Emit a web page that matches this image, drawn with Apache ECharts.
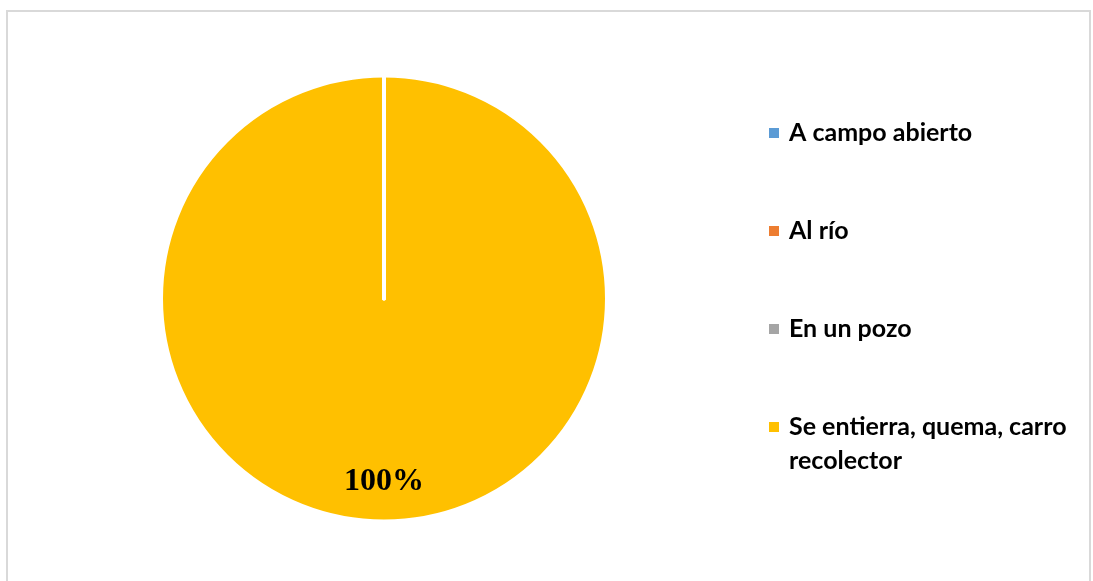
<!DOCTYPE html>
<html>
<head>
<meta charset="utf-8">
<script src="https://cdn.jsdelivr.net/npm/echarts@6/dist/echarts.min.js"></script>
<style>
  html, body { margin: 0; padding: 0; background: #ffffff; }
  #frame { position: absolute; left: 6px; top: 10px; width: 1085px; height: 600px;
           border: 2px solid #d9d9d9; box-sizing: border-box; }
  #chart { position: absolute; left: 0; top: 0; width: 1093px; height: 581px; }
</style>
</head>
<body>
<div id="frame"></div>
<div id="chart"></div>
<script>
// Destino de la basura: categorías, porcentajes y colores
const categories = ['A campo abierto', 'Al río', 'En un pozo', 'Se entierra, quema, carro recolector'];
const values = [0, 0, 0, 100];
const colors = ['#5B9BD5', '#ED7D31', '#A5A5A5', '#FFC000'];

const legendFont = { fontFamily: 'Lato', fontWeight: 'bold', fontSize: 25, color: '#000000',
                     lineHeight: 34, backgroundColor: 'transparent' };
// square marker; the tall variant keeps the square beside the first line of a wrapped name
const squareIcon = 'path://M0,0h10v10h-10z';
const squareIconTop = 'path://M0,0h10v10h-10z M0,44h0';

// the non-zero slice goes first so the zero-width slices stroke on top of it
const order = [3, 0, 1, 2];
const pieData = order.map(i => ({
  name: categories[i],
  value: values[i],
  itemStyle: { color: colors[i] },
  label: { show: values[i] > 0 }
}));

const chart = echarts.init(document.getElementById('chart'), null, { renderer: 'canvas' });
chart.setOption({
  animation: false,
  backgroundColor: 'transparent',
  legend: [
    {
      orient: 'vertical', left: 769, top: 116, padding: 0,
      itemGap: 64, itemWidth: 20, itemHeight: 10, icon: squareIcon,
      itemStyle: { borderWidth: 0 },
      selectedMode: false,
      data: categories.slice(0, 3),
      textStyle: legendFont
    },
    {
      orient: 'vertical', left: 769, top: 410, padding: 0,
      itemWidth: 20, itemHeight: 44, icon: squareIconTop,
      itemStyle: { borderWidth: 0 },
      selectedMode: false,
      data: categories.slice(3),
      textStyle: Object.assign({}, legendFont, { width: 290, overflow: 'break' })
    }
  ],
  series: [{
    type: 'pie',
    center: [384, 298.5],
    radius: 223,
    startAngle: 90,
    clockwise: true,
    avoidLabelOverlap: false,
    itemStyle: { borderColor: '#ffffff', borderWidth: 4 },
    label: {
      position: 'inside',
      formatter: '{d}%',
      offset: [0, 69],
      fontFamily: 'Liberation Serif',
      fontWeight: 'bold',
      fontSize: 32,
      color: '#000000'
    },
    labelLine: { show: false },
    emphasis: { disabled: true },
    data: pieData
  }]
});
</script>
</body>
</html>
